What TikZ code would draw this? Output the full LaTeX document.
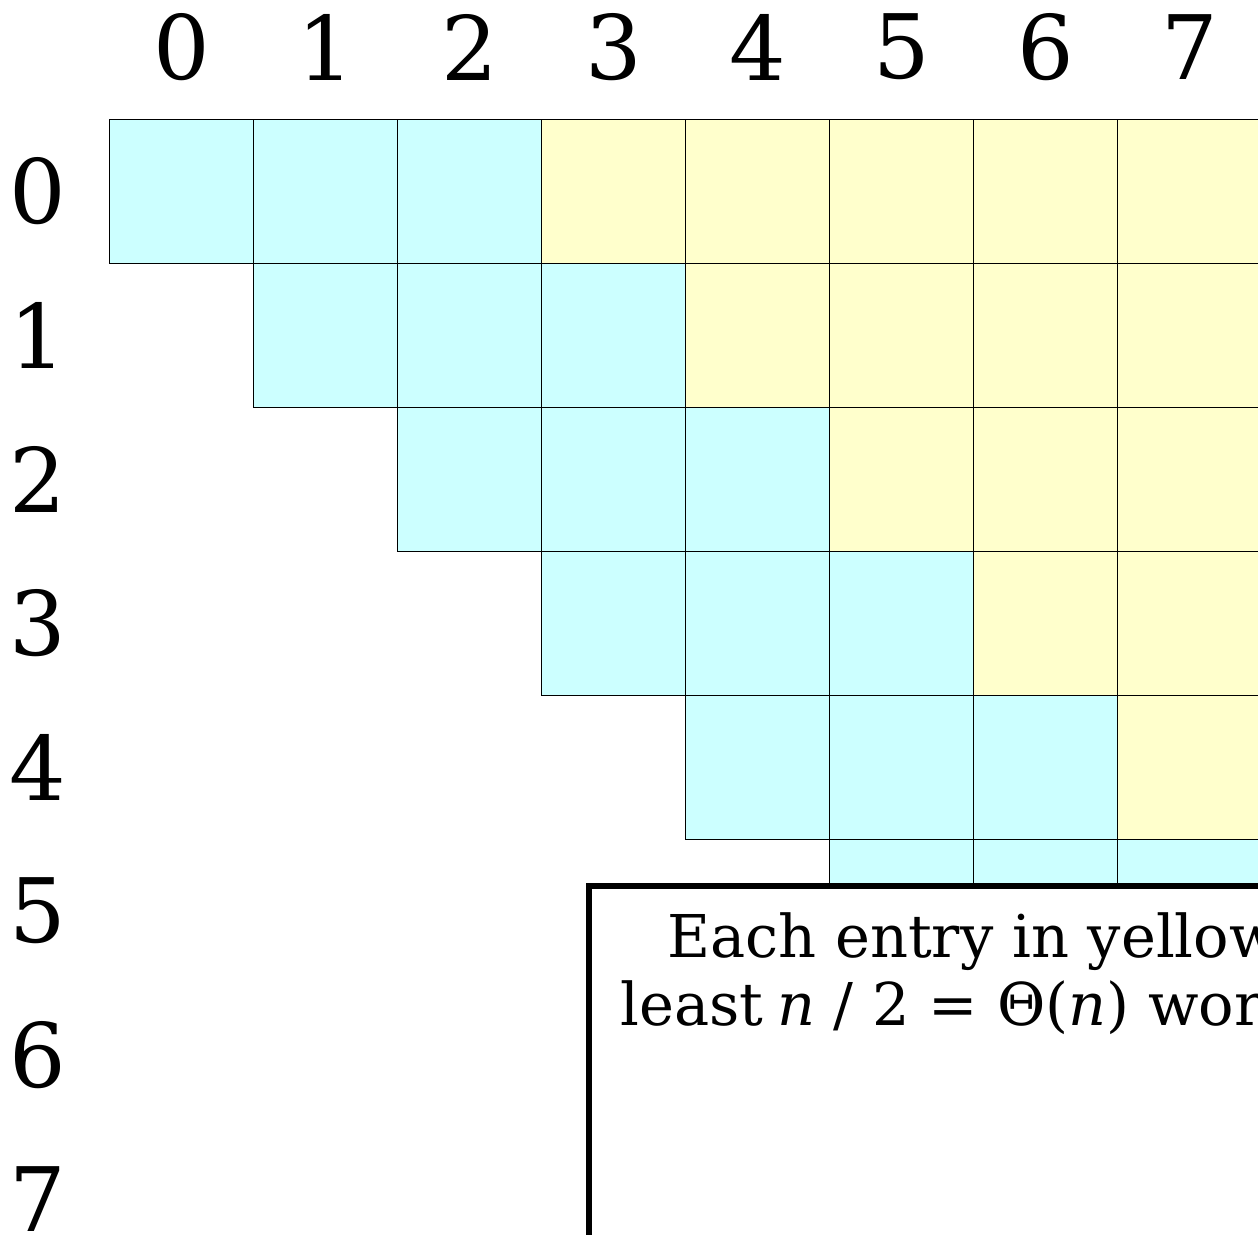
\documentclass[tikz,border=0pt]{standalone}
\usepackage{fontspec}
\setmainfont{DejaVu Serif}
\definecolor{cellcyan}{HTML}{CCFFFF}
\definecolor{cellyellow}{HTML}{FFFFCC}
\begin{document}
\begin{tikzpicture}[x=1pt,y=-1pt,
  cell/.style={draw=black,line width=0.8pt},
  lbl/.style={font=\fontsize{89}{89}\selectfont,inner sep=0pt},
  note/.style={font=\fontsize{59}{59}\selectfont,inner sep=0pt,anchor=base west}]
\useasboundingbox (0,0) rectangle (1258,1234);
\clip (0,0) rectangle (1258,1234);
\fill[white] (0,0) rectangle (1258,1234);
\foreach \i in {0,...,7}{
  \foreach \j in {\i,...,7}{
    \pgfmathtruncatemacro{\d}{\j-\i}
    \ifnum\d<3
      \filldraw[cell,fill=cellcyan] (109+144*\j,119+144*\i) rectangle ++(144,144);
    \else
      \filldraw[cell,fill=cellyellow] (109+144*\j,119+144*\i) rectangle ++(144,144);
    \fi
  }
}
\foreach \k in {0,...,7}{
  \node[lbl] (c\k) at (182+144*\k,47) {\k};
  \node[lbl] (r\k) at (38,191+144*\k) {\k};
}
\filldraw[line width=6pt,fill=white] (589,886) rectangle (1500,1400);
\node[note] (t1) at (667,957) {Each entry in yellow};
\node[note] (t2) at (620,1025) {least\hspace{-0.08em} \textit{n} / 2 = Θ(\textit{n}) work};
\end{tikzpicture}
\end{document}
